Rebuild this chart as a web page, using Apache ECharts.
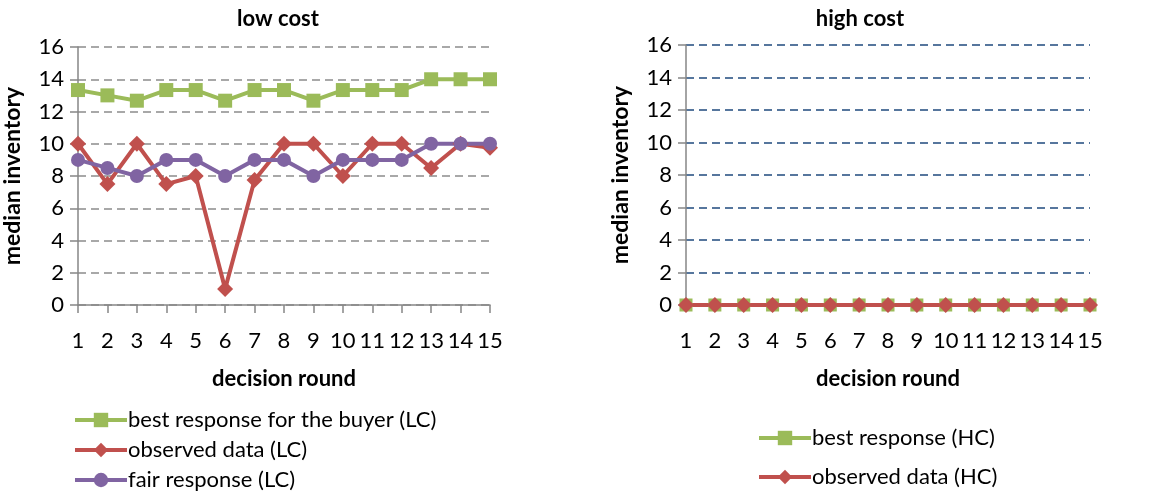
<!DOCTYPE html>
<html>
<head>
<meta charset="utf-8">
<script src="https://cdn.jsdelivr.net/npm/echarts@6/dist/echarts.min.js"></script>
<style>
  html, body { margin: 0; padding: 0; background: #ffffff; }
  #chart { width: 1160px; height: 495px; }
</style>
</head>
<body>
<div id="chart"></div>
<script>
// Decision rounds shared by both panels
const rounds = ['1','2','3','4','5','6','7','8','9','10','11','12','13','14','15'];
const yTicks = [0, 2, 4, 6, 8, 10, 12, 14, 16];

// Low cost (LC) treatment
const bestResponseLC = [13.33, 13, 12.67, 13.33, 13.33, 12.67, 13.33, 13.33, 12.67, 13.33, 13.33, 13.33, 14, 14, 14];
const observedLC     = [10, 7.5, 10, 7.5, 8, 1, 7.75, 10, 10, 8, 10, 10, 8.5, 10, 9.75];
const fairLC         = [9, 8.5, 8, 9, 9, 8, 9, 9, 8, 9, 9, 9, 10, 10, 10];

// High cost (HC) treatment
const bestResponseHC = [0, 0, 0, 0, 0, 0, 0, 0, 0, 0, 0, 0, 0, 0, 0];
const observedHC     = [0, 0, 0, 0, 0, 0, 0, 0, 0, 0, 0, 0, 0, 0, 0];

const FONT = 'Lato, "Open Sans", sans-serif';
const FS = 22;
const GREEN = '#9BBB59', RED = '#C0504D', PURPLE = '#8064A2';
const AXIS_GRAY = '#868686';

function lineSeries(name, data, color, symbol, size, xi) {
  return {
    name: name, type: 'line', data: data,
    xAxisIndex: xi, yAxisIndex: xi,
    symbol: symbol, symbolSize: size,
    lineStyle: { color: color, width: 4 },
    itemStyle: { color: color },
    emphasis: { disabled: true },
    animation: false
  };
}

function yAxis(gi, gridColor) {
  return {
    type: 'value', gridIndex: gi, min: 0, max: 16, interval: 2,
    name: 'median inventory', nameLocation: 'middle', nameGap: 54,
    nameTextStyle: { fontFamily: FONT, fontSize: 23, fontWeight: 'bold', color: '#000' },
    axisLine: { show: true, lineStyle: { color: AXIS_GRAY, width: 1.5 } },
    axisTick: { show: true, length: 8, lineStyle: { color: AXIS_GRAY, width: 1.5 } },
    axisLabel: { fontFamily: FONT, fontSize: FS, color: '#000', margin: 14,
      formatter: v => yTicks.includes(v) ? String(v) : '' },
    splitLine: { show: true, lineStyle: { color: gridColor, width: 1.5, type: [8, 5] } }
  };
}

function xAxis(gi, ticks) {
  return {
    type: 'category', gridIndex: gi, data: rounds, boundaryGap: false,
    name: 'decision round', nameLocation: 'middle', nameGap: 63,
    nameTextStyle: { fontFamily: FONT, fontSize: FS, fontWeight: 'bold', color: '#000' },
    axisLine: { show: true, onZero: false, lineStyle: { color: AXIS_GRAY, width: 1.5 } },
    axisTick: { show: ticks, length: 8, alignWithLabel: true, lineStyle: { color: AXIS_GRAY, width: 1.5 } },
    axisLabel: { fontFamily: FONT, fontSize: FS, color: '#000', margin: 25, interval: 0 },
    splitLine: { show: false }
  };
}

// One legend block per entry so each row sits exactly where it should
function legendItem(name, left, centerY) {
  return {
    orient: 'vertical', left: left, top: centerY - 16, padding: [5, 5, 5, 5],
    itemWidth: 52, itemHeight: 18, itemGap: 0,
    lineStyle: { width: 4 },
    textStyle: { fontFamily: FONT, fontSize: FS, color: '#000', padding: [0, 0, 0, -4] },
    data: [name]
  };
}

const chart = echarts.init(document.getElementById('chart'), null, { renderer: 'canvas' });
chart.setOption({
  backgroundColor: '#ffffff',
  animation: false,
  title: [
    { text: 'low cost', left: 273, top: 3, textAlign: 'center',
      textStyle: { fontFamily: FONT, fontSize: FS, fontWeight: 'bold', color: '#000' } },
    { text: 'high cost', left: 855, top: 3, textAlign: 'center',
      textStyle: { fontFamily: FONT, fontSize: FS, fontWeight: 'bold', color: '#000' } }
  ],
  grid: [
    { left: 78, top: 47, width: 412, height: 258 },
    { left: 686, top: 45, width: 404, height: 260 }
  ],
  xAxis: [xAxis(0, true), xAxis(1, false)],
  yAxis: [yAxis(0, '#8c8c8c'), yAxis(1, '#1F497D')],
  legend: [
    legendItem('best response for the buyer (LC)', 68, 420),
    legendItem('observed data (LC)', 68, 450),
    legendItem('fair response (LC)', 68, 480),
    legendItem('best response (HC)', 752, 438),
    legendItem('observed data (HC)', 752, 477)
  ],
  series: [
    lineSeries('best response for the buyer (LC)', bestResponseLC, GREEN, 'rect', 14, 0),
    lineSeries('observed data (LC)', observedLC, RED, 'diamond', 16, 0),
    lineSeries('fair response (LC)', fairLC, PURPLE, 'circle', 14, 0),
    lineSeries('best response (HC)', bestResponseHC, GREEN, 'rect', 13, 1),
    lineSeries('observed data (HC)', observedHC, RED, 'diamond', 16, 1)
  ]
});
</script>
</body>
</html>
